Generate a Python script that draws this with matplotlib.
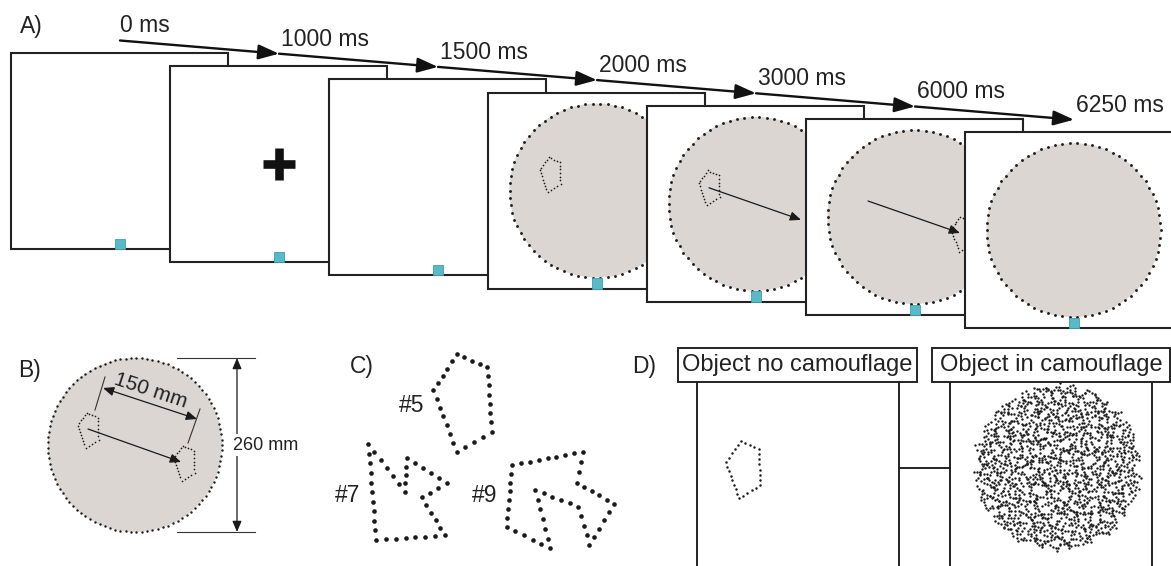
import numpy as np
import matplotlib
matplotlib.use('Agg')
import matplotlib.pyplot as plt
from matplotlib.patches import Rectangle, Circle, FancyArrowPatch

plt.rcParams['font.family'] = ['Liberation Sans', 'DejaVu Sans']

# ---------------- content ----------------
time_labels = ['0 ms', '1000 ms', '1500 ms', '2000 ms', '3000 ms', '6000 ms', '6250 ms']
frame_content = ['blank', 'cross', 'blank', 'object', 'move_start', 'move_end', 'empty']
panel_labels = ['A)', 'B)', 'C)', 'D)']
shape_labels = ['#5', '#7', '#9']
condition_labels = ['Object no camouflage', 'Object in camouflage']
dimension_labels = ['150 mm', '260 mm']

# object outlines (pixel units of the figure)
pentagon = [(-1.5, -17.5), (9.5, -12.5), (10.5, 9.5), (-2.5, 17.5), (-10.5, -4.5)]
shape5 = [(456.7, 354.3), (487.3, 366.7), (491.7, 431.7), (456.7, 451.7), (433.3, 390)]
shape7 = [(368.3, 444.3), (376, 540), (445, 535.3), (421.7, 497.3), (446.7, 483.3),
          (406.7, 458.3), (405, 491.7)]
shape9 = [(511.7, 465), (583.3, 451.7), (576.7, 482.7), (614, 504), (589.3, 545),
          (578.3, 506.7), (535, 490), (550, 548.3), (506.7, 526.7)]

W, H = 1171, 566
GRAY = '#dcd6d2'
INK = '#1a1a1a'
CYAN = '#58bac6'

fig = plt.figure(figsize=(W / 100, H / 100), dpi=100)
ax = fig.add_axes([0, 0, 1, 1])
ax.set_xlim(0, W)
ax.set_ylim(H, 0)
ax.axis('off')


def dotted_path(verts, spacing, size, z, closed=True, color=INK):
    v = list(verts) + ([verts[0]] if closed else [])
    xs, ys = [], []
    for (x0, y0), (x1, y1) in zip(v[:-1], v[1:]):
        L = np.hypot(x1 - x0, y1 - y0)
        n = max(1, int(round(L / spacing)))
        t = np.arange(n) / n
        xs.extend(x0 + (x1 - x0) * t)
        ys.extend(y0 + (y1 - y0) * t)
    ax.scatter(xs, ys, s=size, c=color, lw=0, zorder=z)


def dotted_circle(cx, cy, r, spacing, size, z):
    n = int(2 * np.pi * r / spacing)
    a = np.linspace(0, 2 * np.pi, n, endpoint=False)
    ax.scatter(cx + r * np.cos(a), cy + r * np.sin(a), s=size, c=INK, lw=0, zorder=z)


def arrow(p0, p1, z, lw=0.9, ms=5, hl=1.3, hw=0.55, style='-|>', color=INK):
    ax.add_patch(FancyArrowPatch(p0, p1, arrowstyle=f'{style},head_length={hl},head_width={hw}',
                                 mutation_scale=ms, lw=lw, color=color, shrinkA=0, shrinkB=0,
                                 zorder=z))


def shape_at(cx, cy, scale=1.0):
    return [(cx + dx * scale, cy + dy * scale) for dx, dy in pentagon]


# ---------------- panel A ----------------
FX0, FY0, FW, FH = 11, 53, 217, 196
SX, SY = 159, 13.2
R = 87
TX0, TY0 = 120, 40.5

for i, kind in enumerate(frame_content):
    x0, y0 = FX0 + i * SX, FY0 + i * SY
    z = 10 + i * 10
    ax.add_patch(Rectangle((x0, y0), FW, FH, fc='white', ec='#222222', lw=1.5, zorder=z))
    cx, cy = x0 + FW / 2, y0 + FH / 2
    if kind == 'cross':
        ax.plot([cx - 16, cx + 16], [cy, cy], color='#111111', lw=6.2, solid_capstyle='butt', zorder=z + 1)
        ax.plot([cx, cx], [cy - 16, cy + 16], color='#111111', lw=6.2, solid_capstyle='butt', zorder=z + 1)
    if kind in ('object', 'move_start', 'move_end', 'empty'):
        ax.add_patch(Circle((cx, cy), R, fc=GRAY, ec='none', zorder=z + 1))
        dotted_circle(cx, cy, R, 7.3, 4.2, z + 2)
    if kind in ('object', 'move_start'):
        dotted_path(shape_at(cx - 46.5, cy - 16), 3.4, 1.5, z + 3)
    if kind == 'move_start':
        arrow((cx - 46.5, cy - 16), (cx + 45.5, cy + 16), z + 4)
    if kind == 'move_end':
        arrow((cx - 46.5, cy - 16), (cx + 45.5, cy + 16), z + 4)
        dotted_path(shape_at(cx + 47, cy + 17), 3.4, 1.5, z + 3)
    ax.add_patch(Rectangle((cx - 5, y0 + FH - 10.5), 10, 10.5, fc=CYAN, ec='#3f9fab',
                           lw=0.6, zorder=z + 5))

# time line
for k, lab in enumerate(time_labels):
    tx, ty = TX0 + k * SX, TY0 + k * SY
    if k > 0:
        arrow((TX0 + (k - 1) * SX, TY0 + (k - 1) * SY), (tx, ty), 200,
              lw=1.7, ms=10, hl=1.25, hw=0.45, color='#111111')
    ax.text(tx + (0 if k == 0 else 2), ty - 14.5, lab, fontsize=16.5, ha='left', va='center',
            color='#222222', zorder=201)

ax.text(20, 26.5, panel_labels[0], fontsize=16.5, ha='left', va='center', color='#222222')

# ---------------- panel B ----------------
bcx, bcy = 135, 445
ax.add_patch(Circle((bcx, bcy), R, fc=GRAY, ec='none', zorder=2))
dotted_circle(bcx, bcy, R, 5.4, 3.0, 3)
dotted_path(shape_at(88, 430), 3.4, 1.5, 4)
dotted_path(shape_at(184, 463), 3.4, 1.5, 4)
arrow((88, 429), (181, 462), 5)
ax.plot([95, 105], [410, 377], color='#333333', lw=0.8, zorder=5)
ax.plot([188, 200], [443, 409], color='#333333', lw=0.8, zorder=5)
arrow((103, 388), (197, 419), 5, style='<|-|>')
ax.text(151, 391, dimension_labels[0], fontsize=15, rotation=-18.3, rotation_mode='anchor',
        ha='center', va='center', color='#222222', zorder=6)
ax.plot([177, 255], [358, 358], color='#333333', lw=0.8, zorder=5)
ax.plot([177, 255], [532, 532], color='#333333', lw=0.8, zorder=5)
arrow((237, 358), (237, 532), 5, style='<|-|>')
ax.text(266, 445, dimension_labels[1], fontsize=13, ha='center', va='center', color='#222222',
        zorder=6, bbox=dict(boxstyle='square,pad=0.15', fc='white', ec='none'))
ax.text(18, 370, panel_labels[1], fontsize=16.5, ha='left', va='center', color='#222222')

# ---------------- panel C ----------------
ax.text(350, 366, panel_labels[2], fontsize=16.5, ha='left', va='center', color='#222222')
for lab, verts, pos in zip(shape_labels, [shape5, shape7, shape9],
                           [(399, 405), (335, 496), (472, 496)]):
    dotted_path(verts, 9.3, 11, 4)
    ax.text(pos[0], pos[1], lab, fontsize=16.5, ha='left', va='center', color='#222222')

# ---------------- panel D ----------------
ax.text(632, 367, panel_labels[3], fontsize=16.5, ha='left', va='center', color='#222222')
for lab, (bx0, bx1) in zip(condition_labels, [(678, 917), (932, 1170)]):
    ax.add_patch(Rectangle((bx0, 348), bx1 - bx0, 34, fc='white', ec='#222222', lw=1.4, zorder=20))
    ax.text((bx0 + bx1) / 2, 365.5, lab, fontsize=17, ha='center', va='center',
            color='#222222', zorder=21)
for x in (697, 899, 950, 1152):
    ax.plot([x, x], [382, 570], color='#222222', lw=1.4, zorder=5)
ax.plot([899, 950], [468, 468], color='#222222', lw=1.4, zorder=5)
dotted_path(shape_at(743, 469.5, 1.65), 5.0, 3.2, 6)


def halton(n, base):
    out = np.zeros(n)
    for i in range(n):
        f, r, k = 1.0, 0.0, i + 1
        while k > 0:
            f /= base
            r += f * (k % base)
            k //= base
        out[i] = r
    return out


ccx, ccy, cr = 1057.5, 467, 85
nseed = 560
rad = cr * np.sqrt(halton(nseed, 2)) * 0.97
ang = 2 * np.pi * halton(nseed, 3)
dirn = np.pi * halton(nseed, 5)
px, py = [], []
for off in (-1, 0, 1):
    px.append(ccx + rad * np.cos(ang) + off * 3.4 * np.cos(dirn))
    py.append(ccy + rad * np.sin(ang) + off * 3.4 * np.sin(dirn))
px, py = np.concatenate(px), np.concatenate(py)
keep = np.hypot(px - ccx, py - ccy) <= cr
ax.scatter(px[keep], py[keep], s=3.0, c=INK, lw=0, zorder=6)

fig.savefig('out.png', dpi=100)
